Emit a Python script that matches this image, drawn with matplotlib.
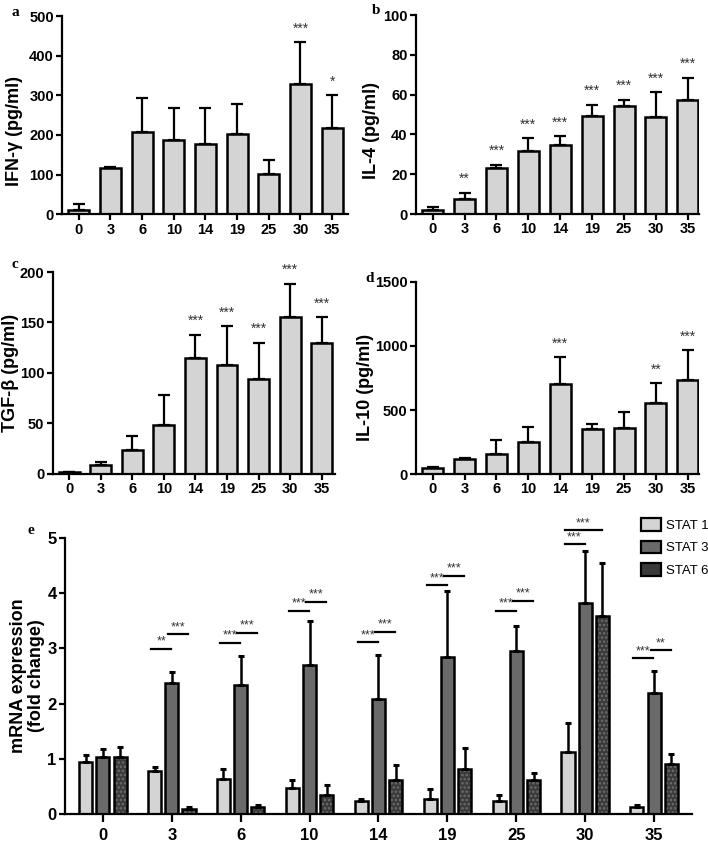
import numpy as np
import matplotlib.pyplot as plt
from matplotlib.patches import Patch

plt.rcParams['font.family'] = ['Liberation Sans', 'DejaVu Sans']
plt.rcParams['hatch.linewidth'] = 1.2

# categories (days)
days = ['0', '3', '6', '10', '14', '19', '25', '30', '35']

# cytokines: mean and upper SD
ifng = [12, 117, 207, 187, 177, 202, 101, 328, 217]
ifng_sd = [15, 2, 85, 80, 90, 75, 35, 106, 83]
ifng_sig = ['', '', '', '', '', '', '', '***', '*']

il4 = [2, 7.8, 23, 31.7, 34.7, 49.2, 54.2, 48.8, 57.5]
il4_sd = [1.7, 3, 1.7, 6.3, 4.3, 5.8, 3, 12.4, 10.8]
il4_sig = ['', '**', '***', '***', '***', '***', '***', '***', '***']

tgfb = [1.5, 8.2, 23.6, 48.5, 114.8, 108.2, 94.4, 155, 129.5]
tgfb_sd = [0.5, 3.3, 14.1, 29.5, 22.6, 37.8, 35.4, 32.9, 25.5]
tgfb_sig = ['', '', '', '', '***', '***', '***', '***', '***']

il10 = [45, 118, 156, 247, 701, 351, 358, 551, 732]
il10_sd = [7, 10, 111, 124, 213, 39, 130, 158, 234]
il10_sig = ['', '', '', '', '***', '', '', '**', '***']

# STAT mRNA expression (fold change)
stat1 = [0.95, 0.77, 0.64, 0.47, 0.23, 0.28, 0.23, 1.13, 0.13]
stat1_sd = [0.12, 0.09, 0.17, 0.14, 0.04, 0.18, 0.11, 0.52, 0.04]
stat3 = [1.03, 2.37, 2.33, 2.70, 2.08, 2.85, 2.95, 3.83, 2.19]
stat3_sd = [0.15, 0.21, 0.54, 0.80, 0.80, 1.19, 0.46, 0.93, 0.40]
stat6 = [1.03, 0.09, 0.12, 0.35, 0.61, 0.81, 0.62, 3.59, 0.91]
stat6_sd = [0.18, 0.04, 0.04, 0.17, 0.27, 0.38, 0.13, 0.96, 0.18]
stat_names = ['STAT 1', 'STAT 3', 'STAT 6']

# comparisons: (day index, bar i, bar j, line height, label)
stat_sig = [
    (1, 0, 1, 2.99, '**'), (1, 1, 2, 3.26, '***'),
    (2, 0, 1, 3.10, '***'), (2, 1, 2, 3.28, '***'),
    (3, 0, 1, 3.68, '***'), (3, 1, 2, 3.84, '***'),
    (4, 0, 1, 3.11, '***'), (4, 1, 2, 3.30, '***'),
    (5, 0, 1, 4.14, '***'), (5, 1, 2, 4.32, '***'),
    (6, 0, 1, 3.68, '***'), (6, 1, 2, 3.86, '***'),
    (7, 0, 1, 4.89, '***'), (7, 0, 2, 5.14, '***'),
    (8, 0, 1, 2.82, '***'), (8, 1, 2, 2.97, '**'),
]

LIGHT = '#d4d4d4'
MID = '#6a6a6a'
DARK = '#3a3a3a'


def style_axis(ax, tick_size=10.5):
    for s in ['top', 'right']:
        ax.spines[s].set_visible(False)
    for s in ['left', 'bottom']:
        ax.spines[s].set_linewidth(1.6)
    ax.tick_params(width=1.6, length=4, labelsize=tick_size, pad=2)
    for lab in ax.get_xticklabels() + ax.get_yticklabels():
        lab.set_fontweight('bold')


def cyto_panel(rect, vals, sd, sig, ymax, yticks, ylabel, xlim, lab_x, lab_y):
    ax = fig.add_axes(rect)
    x = np.arange(len(days))
    ax.bar(x, vals, width=0.66, color=LIGHT, edgecolor='k', linewidth=1.8, zorder=2)
    ax.errorbar(x, vals, yerr=[np.zeros(len(x)), sd], fmt='none', ecolor='k',
                elinewidth=1.6, capsize=4, capthick=1.6, zorder=3)
    for xi, v, s, lab in zip(x, vals, sd, sig):
        if lab:
            ax.text(xi, v + s + 0.07 * ymax, lab, ha='center', va='center',
                    fontsize=10, color='#333333', clip_on=False)
    ax.set_xlim(*xlim)
    ax.set_ylim(0, ymax)
    ax.set_yticks(yticks)
    ax.set_xticks(x)
    ax.set_xticklabels(days)
    ax.set_ylabel(ylabel, fontsize=13, fontweight='bold')
    ax.yaxis.set_label_coords(lab_x, lab_y)
    style_axis(ax)
    return ax


fig = plt.figure(figsize=(7.08, 8.43), dpi=100)

cyto_panel([0.0880, 0.7458, 0.4035, 0.2352], ifng, ifng_sd, ifng_sig, 500,
           [0, 100, 200, 300, 400, 500], 'IFN-γ (pg/ml)', (-0.52, 8.5), -0.137, 0.42)
cyto_panel([0.5876, 0.7461, 0.3997, 0.2361], il4, il4_sd, il4_sig, 100,
           [0, 20, 40, 60, 80, 100], 'IL-4 (pg/ml)', (-0.52, 8.35), -0.127, 0.42)
cyto_panel([0.0744, 0.4381, 0.3987, 0.2392], tgfb, tgfb_sd, tgfb_sig, 200,
           [0, 50, 100, 150, 200], 'TGF-β (pg/ml)', (-0.52, 8.42), -0.12, 0.5)
cyto_panel([0.5876, 0.4377, 0.3997, 0.2278], il10, il10_sd, il10_sig, 1500,
           [0, 500, 1000, 1500], 'IL-10 (pg/ml)', (-0.52, 8.35), -0.15, 0.45)

# panel e
ax = fig.add_axes([0.0918, 0.0344, 0.8856, 0.3274])
x = np.arange(len(days))
off = 0.25
w = 0.19
series = [(stat1, stat1_sd, LIGHT, None), (stat3, stat3_sd, MID, None),
          (stat6, stat6_sd, DARK, '....')]
for k, (vals, sd, col, hatch) in enumerate(series):
    xs = x + (k - 1) * off
    if hatch:
        ax.bar(xs, vals, width=w, color=col, edgecolor='#6e6e6e', hatch=hatch,
               linewidth=0, zorder=2)
        ax.bar(xs, vals, width=w, fill=False, edgecolor='k', linewidth=1.8, zorder=2)
    else:
        ax.bar(xs, vals, width=w, color=col, edgecolor='k', linewidth=1.8, zorder=2)
    ax.errorbar(xs, vals, yerr=[np.zeros(len(xs)), sd], fmt='none', ecolor='k',
                elinewidth=1.8, capsize=2.5, capthick=2.2, zorder=3)

for g, i, j, h, lab in stat_sig:
    x0 = g + (i - 1) * off - 0.05
    x1 = g + (j - 1) * off - 0.01
    ax.plot([x0, x1], [h, h], color='k', lw=1.6, clip_on=False, zorder=4)
    ax.text((x0 + x1) / 2, h + 0.02, lab, ha='center', va='bottom',
            fontsize=9, color='#333333', clip_on=False)

ax.set_xlim(-0.55, 8.55)
ax.set_ylim(0, 5)
ax.set_yticks([0, 1, 2, 3, 4, 5])
ax.set_xticks(x)
ax.set_xticklabels(days)
ax.set_ylabel('mRNA expression\n(fold change)', fontsize=13,
              fontweight='bold', labelpad=2, linespacing=1.05)
style_axis(ax, tick_size=12)
ax.tick_params(axis='x', length=6, pad=4)

# panel letters
for letter, (px, py) in zip('abcde', [(12, 12), (372, 10), (12, 265), (365, 278), (27, 530)]):
    fig.text(px / 708, 1 - py / 843, letter, fontsize=11, fontweight='bold',
             family='Liberation Serif', ha='left', va='center')

handles = [Patch(facecolor=c, edgecolor='k', linewidth=1.6) for c in (LIGHT, MID, DARK)]
fig.legend(handles, stat_names, loc='upper left',
           bbox_to_anchor=(636 / 708, 1 - 513 / 843), frameon=False,
           fontsize=9.5, handlelength=1.5, handleheight=1.1,
           labelspacing=0.65, handletextpad=0.4, borderaxespad=0)

fig.savefig('out.png', dpi=100)
